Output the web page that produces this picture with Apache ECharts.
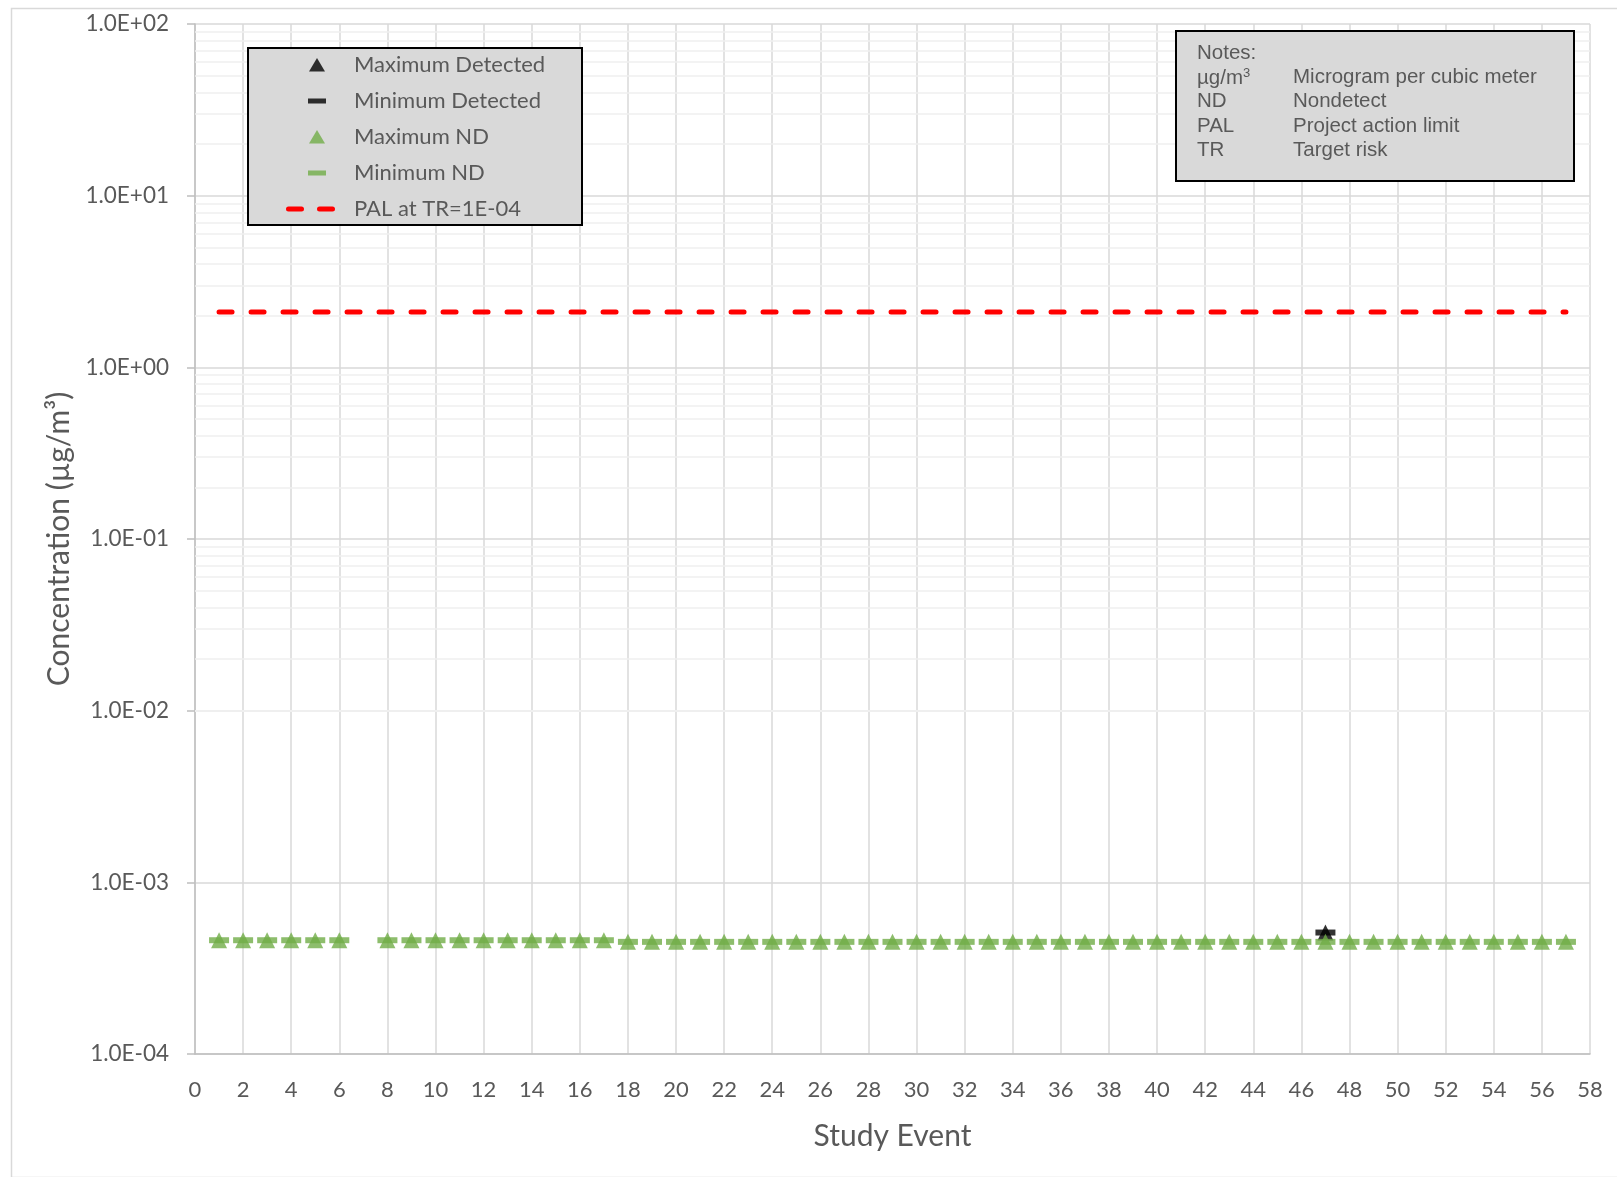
<!DOCTYPE html>
<html>
<head>
<meta charset="utf-8">
<script src="https://cdn.jsdelivr.net/npm/echarts@6/dist/echarts.min.js"></script>
<style>
  html, body { margin: 0; padding: 0; background: #fff; }
  #chart { width: 1617px; height: 1177px; }
</style>
</head>
<body>
<div id="chart"></div>
<script>
// study events with nondetect results (no event 7)
const ndEvents = [1, 2, 3, 4, 5, 6, 8, 9, 10, 11, 12, 13, 14, 15, 16, 17, 18, 19, 20,
  21, 22, 23, 24, 25, 26, 27, 28, 29, 30, 31, 32, 33, 34, 35, 36, 37, 38, 39, 40,
  41, 42, 43, 44, 45, 46, 47, 48, 49, 50, 51, 52, 53, 54, 55, 56, 57];
const maxNd = [4.6e-4, 4.6e-4, 4.6e-4, 4.6e-4, 4.6e-4, 4.6e-4, 4.6e-4, 4.6e-4, 4.6e-4, 4.6e-4,
  4.6e-4, 4.6e-4, 4.6e-4, 4.6e-4, 4.6e-4, 4.6e-4, 4.5e-4, 4.5e-4, 4.5e-4, 4.5e-4,
  4.5e-4, 4.5e-4, 4.5e-4, 4.5e-4, 4.5e-4, 4.5e-4, 4.5e-4, 4.5e-4, 4.5e-4, 4.5e-4,
  4.5e-4, 4.5e-4, 4.5e-4, 4.5e-4, 4.5e-4, 4.5e-4, 4.5e-4, 4.5e-4, 4.5e-4, 4.5e-4,
  4.5e-4, 4.5e-4, 4.5e-4, 4.5e-4, 4.5e-4, 4.5e-4, 4.5e-4, 4.5e-4, 4.5e-4, 4.5e-4,
  4.5e-4, 4.5e-4, 4.5e-4, 4.5e-4, 4.5e-4, 4.5e-4];
const minNd = [4.6e-4, 4.6e-4, 4.6e-4, 4.6e-4, 4.6e-4, 4.6e-4, 4.6e-4, 4.6e-4, 4.6e-4, 4.6e-4,
  4.6e-4, 4.6e-4, 4.6e-4, 4.6e-4, 4.6e-4, 4.6e-4, 4.5e-4, 4.5e-4, 4.5e-4, 4.5e-4,
  4.5e-4, 4.5e-4, 4.5e-4, 4.5e-4, 4.5e-4, 4.5e-4, 4.5e-4, 4.5e-4, 4.5e-4, 4.5e-4,
  4.5e-4, 4.5e-4, 4.5e-4, 4.5e-4, 4.5e-4, 4.5e-4, 4.5e-4, 4.5e-4, 4.5e-4, 4.5e-4,
  4.5e-4, 4.5e-4, 4.5e-4, 4.5e-4, 4.5e-4, 4.5e-4, 4.5e-4, 4.5e-4, 4.5e-4, 4.5e-4,
  4.5e-4, 4.5e-4, 4.5e-4, 4.5e-4, 4.5e-4, 4.5e-4];

// detected results
const detEvents = [47];
const maxDetected = [5.1e-4];
const minDetected = [5.1e-4];

// project action limit
const palEvents = [1, 57];
const palValues = [2.1, 2.1];

const legendNames = ['Maximum Detected', 'Minimum Detected', 'Maximum ND', 'Minimum ND', 'PAL at TR=1E-04'];
const notesAbbr = ['µg/m{sup|3}', 'ND', 'PAL', 'TR'];
const notesText = ['Microgram per cubic meter', 'Nondetect', 'Project action limit', 'Target risk'];

const GREEN = '#70ad47';
const TXT = '#595959';
const FONT = 'Lato';
const NOTE_FONT = '"Liberation Sans", Arial, sans-serif';

const pairs = (xs, ys) => xs.map((x, i) => [x, ys[i]]);

// light minor gridlines at 2..9 of each decade
const minorLines = [];
for (let e = -4; e < 2; e++) {
  for (let m = 2; m <= 9; m++) minorLines.push({ yAxis: m * Math.pow(10, e) });
}

const sciLabel = (v) => {
  const e = Math.round(Math.log10(v));
  const m = v / Math.pow(10, e);
  const sign = e < 0 ? '-' : '+';
  return m.toFixed(1) + 'E' + sign + String(Math.abs(e)).padStart(2, '0');
};

const chart = echarts.init(document.getElementById('chart'));

const noteStyle = (text) => ({
  text: text,
  fill: TXT,
  fontSize: 20.5,
  fontFamily: NOTE_FONT,
  rich: {
    sup: { fontSize: 13, fontFamily: NOTE_FONT, fill: TXT, padding: [0, 0, 9, 0] }
  }
});

const notesGraphics = [];
notesGraphics.push({ type: 'text', left: 1197, top: 43, z: 51, style: noteStyle('Notes:') });
notesAbbr.forEach((a, i) => {
  notesGraphics.push({ type: 'text', left: 1197, top: 67 + i * 24.3, z: 51, style: noteStyle(a) });
  notesGraphics.push({ type: 'text', left: 1293, top: 67 + i * 24.3, z: 51, style: noteStyle(notesText[i]) });
});

const option = {
  animation: false,
  backgroundColor: '#fff',
  grid: { left: 195, right: 27, top: 24, bottom: 123 },
  xAxis: {
    type: 'value',
    min: 0,
    max: 58,
    interval: 2,
    name: 'Study Event',
    nameLocation: 'middle',
    nameGap: 67,
    nameTextStyle: { color: TXT, fontSize: 30, fontFamily: FONT },
    axisLine: { show: true, lineStyle: { color: '#bfbfbf', width: 1.5 } },
    axisTick: { show: false },
    axisLabel: { color: TXT, fontSize: 22, fontFamily: FONT, margin: 25 },
    splitLine: { show: true, lineStyle: { color: '#d9d9d9', width: 1.5 } }
  },
  yAxis: {
    type: 'log',
    logBase: 10,
    min: 1e-4,
    max: 100,
    name: 'Concentration (µg/m³)',
    nameLocation: 'middle',
    nameRotate: 90,
    nameGap: 113,
    nameTextStyle: { color: TXT, fontSize: 30, fontFamily: FONT },
    axisLine: { show: true, lineStyle: { color: '#bfbfbf', width: 1.5 } },
    axisTick: { show: true, length: 8, lineStyle: { color: '#bfbfbf', width: 1.5 } },
    axisLabel: { color: TXT, fontSize: 22.5, fontFamily: FONT, margin: 26, formatter: sciLabel },
    splitLine: { show: true, lineStyle: { color: '#d9d9d9', width: 1.5 } }
  },
  legend: {
    orient: 'vertical',
    left: 285,
    top: 53,
    padding: 0,
    itemWidth: 64,
    itemHeight: 14,
    itemGap: 12,
    z: 52,
    selectedMode: false,
    textStyle: { color: TXT, fontSize: 22, fontFamily: FONT, lineHeight: 24 },
    data: [
      { name: legendNames[0], icon: 'path://M0,0M64,14M24,13.5L32,0L40,13.5Z', itemStyle: { color: '#000' } },
      { name: legendNames[1], icon: 'path://M0,0M64,14M23,4.5H41V9.5H23Z', itemStyle: { color: '#000' } },
      { name: legendNames[2], icon: 'path://M0,0M64,14M24,13.5L32,0L40,13.5Z', itemStyle: { color: GREEN } },
      { name: legendNames[3], icon: 'path://M0,0M64,14M23,4.5H41V9.5H23Z', itemStyle: { color: GREEN } },
      { name: legendNames[4], icon: 'path://M0,0M64,14M3.5,4.5H16.5A2.5,2.5,0,0,1,16.5,9.5H3.5A2.5,2.5,0,0,1,3.5,4.5Z M34.5,4.5H47.5A2.5,2.5,0,0,1,47.5,9.5H34.5A2.5,2.5,0,0,1,34.5,4.5Z', itemStyle: { color: '#ff0000' } }
    ]
  },
  graphic: [
    { type: 'rect', left: 9, top: 6, z: -10, silent: true,
      shape: { width: 1620, height: 1169 },
      style: { fill: 'none', stroke: '#d9d9d9', lineWidth: 1.5 } },
    { type: 'rect', left: 247, top: 47, z: 50, silent: true,
      shape: { width: 334, height: 177 },
      style: { fill: '#d9d9d9', stroke: '#000', lineWidth: 2 } },
    { type: 'rect', left: 1175, top: 30, z: 50, silent: true,
      shape: { width: 398, height: 150 },
      style: { fill: '#d9d9d9', stroke: '#000', lineWidth: 2 } }
  ].concat(notesGraphics),
  series: [
    {
      type: 'line',
      data: [],
      z: -1,
      silent: true,
      markLine: {
        silent: true,
        symbol: 'none',
        label: { show: false },
        lineStyle: { color: '#efefef', width: 1.5, type: 'solid' },
        data: minorLines
      }
    },
    {
      name: legendNames[0],
      type: 'scatter',
      symbol: 'triangle',
      symbolSize: [16, 16],
      itemStyle: { color: '#000' },
      data: pairs(detEvents, maxDetected)
    },
    {
      name: legendNames[1],
      type: 'scatter',
      symbol: 'rect',
      symbolSize: [20, 6],
      itemStyle: { color: '#000' },
      data: pairs(detEvents, minDetected)
    },
    {
      name: legendNames[2],
      type: 'scatter',
      symbol: 'triangle',
      symbolSize: [16, 16],
      itemStyle: { color: GREEN },
      data: pairs(ndEvents, maxNd)
    },
    {
      name: legendNames[3],
      type: 'scatter',
      symbol: 'rect',
      symbolSize: [20, 6],
      itemStyle: { color: GREEN },
      data: pairs(ndEvents, minNd)
    },
    {
      name: legendNames[4],
      type: 'line',
      symbol: 'none',
      itemStyle: { color: '#ff0000' },
      lineStyle: { color: '#ff0000', width: 5, type: [13, 19], cap: 'round' },
      data: pairs(palEvents, palValues)
    }
  ]
};

chart.setOption(option);
</script>
</body>
</html>
